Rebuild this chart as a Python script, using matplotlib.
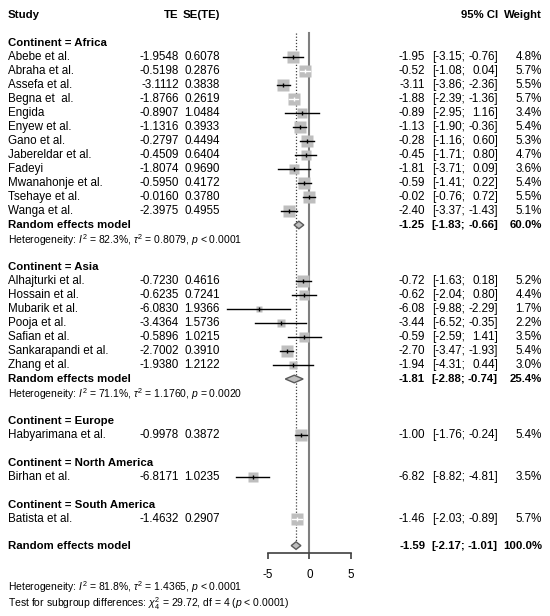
import matplotlib
matplotlib.use("Agg")
import matplotlib.pyplot as plt
from matplotlib.patches import Polygon

plt.rcParams['font.family'] = ['Liberation Sans', 'DejaVu Sans']
plt.rcParams['mathtext.fontset'] = 'custom'
plt.rcParams['mathtext.rm'] = 'Liberation Sans'
plt.rcParams['mathtext.it'] = 'Liberation Sans:italic'
plt.rcParams['mathtext.bf'] = 'Liberation Sans:bold'

# ---------------- data ----------------
groups = ["Africa", "Asia", "Europe", "North America", "South America"]

africa_study = ["Abebe et al.", "Abraha et al.", "Assefa et al.", "Begna et  al.", "Engida",
                "Enyew et al.", "Gano et al.", "Jabereldar et al.", "Fadeyi", "Mwanahonje et al.",
                "Tsehaye et al.", "Wanga et al."]
africa_te = [-1.9548, -0.5198, -3.1112, -1.8766, -0.8907, -1.1316, -0.2797, -0.4509, -1.8074,
             -0.5950, -0.0160, -2.3975]
africa_se = [0.6078, 0.2876, 0.3838, 0.2619, 1.0484, 0.3933, 0.4494, 0.6404, 0.9690, 0.4172,
             0.3780, 0.4955]
africa_est = [-1.95, -0.52, -3.11, -1.88, -0.89, -1.13, -0.28, -0.45, -1.81, -0.59, -0.02, -2.40]
africa_lo = [-3.15, -1.08, -3.86, -2.39, -2.95, -1.90, -1.16, -1.71, -3.71, -1.41, -0.76, -3.37]
africa_hi = [-0.76, 0.04, -2.36, -1.36, 1.16, -0.36, 0.60, 0.80, 0.09, 0.22, 0.72, -1.43]
africa_w = [4.8, 5.7, 5.5, 5.7, 3.4, 5.4, 5.3, 4.7, 3.6, 5.4, 5.5, 5.1]

asia_study = ["Alhajturki et al.", "Hossain et al.", "Mubarik et al.", "Pooja et al.",
              "Safian et al.", "Sankarapandi et al.", "Zhang et al."]
asia_te = [-0.7230, -0.6235, -6.0830, -3.4364, -0.5896, -2.7002, -1.9380]
asia_se = [0.4616, 0.7241, 1.9366, 1.5736, 1.0215, 0.3910, 1.2122]
asia_est = [-0.72, -0.62, -6.08, -3.44, -0.59, -2.70, -1.94]
asia_lo = [-1.63, -2.04, -9.88, -6.52, -2.59, -3.47, -4.31]
asia_hi = [0.18, 0.80, -2.29, -0.35, 1.41, -1.93, 0.44]
asia_w = [5.2, 4.4, 1.7, 2.2, 3.5, 5.4, 3.0]

europe_study = ["Habyarimana et al."]
europe_te = [-0.9978]
europe_se = [0.3872]
europe_est = [-1.00]
europe_lo = [-1.76]
europe_hi = [-0.24]
europe_w = [5.4]

namerica_study = ["Birhan et al."]
namerica_te = [-6.8171]
namerica_se = [1.0235]
namerica_est = [-6.82]
namerica_lo = [-8.82]
namerica_hi = [-4.81]
namerica_w = [3.5]

samerica_study = ["Batista et al."]
samerica_te = [-1.4632]
samerica_se = [0.2907]
samerica_est = [-1.46]
samerica_lo = [-2.03]
samerica_hi = [-0.89]
samerica_w = [5.7]

# subgroup random-effects summaries (only for groups with >1 study)
sub_est = [-1.25, -1.81, None, None, None]
sub_lo = [-1.83, -2.88, None, None, None]
sub_hi = [-0.66, -0.74, None, None, None]
sub_w = [60.0, 25.4, None, None, None]
sub_i2 = ["82.3%", "71.1%", None, None, None]
sub_tau2 = ["0.8079", "1.1760", None, None, None]
sub_p = ["< 0.0001", "= 0.0020", None, None, None]

overall_est, overall_lo, overall_hi, overall_w = -1.59, -2.17, -1.01, 100.0
overall_i2, overall_tau2, overall_p = "81.8%", "1.4365", "< 0.0001"
test_chi2, test_df, test_p = "29.72", 4, "< 0.0001"

xticks = [-5, 0, 5]

group_data = [
    (africa_study, africa_te, africa_se, africa_est, africa_lo, africa_hi, africa_w),
    (asia_study, asia_te, asia_se, asia_est, asia_lo, asia_hi, asia_w),
    (europe_study, europe_te, europe_se, europe_est, europe_lo, europe_hi, europe_w),
    (namerica_study, namerica_te, namerica_se, namerica_est, namerica_lo, namerica_hi, namerica_w),
    (samerica_study, samerica_te, samerica_se, samerica_est, samerica_lo, samerica_hi, samerica_w),
]

# ---------------- layout ----------------
W, H = 550, 616
PX_PER_UNIT = 8.33
X0_PX = 309.3
ROW_PX = 14.0
ROW0_PX = 15.0

fig = plt.figure(figsize=(W / 100, H / 100), dpi=100)
ax = fig.add_axes([0, 0, 1, 1])
ax.set_xlim(-X0_PX / PX_PER_UNIT, (W - X0_PX) / PX_PER_UNIT)
ax.set_ylim((H - ROW0_PX) / ROW_PX, -ROW0_PX / ROW_PX)
for s in ["top", "left", "right"]:
    ax.spines[s].set_visible(False)
ax.set_yticks([])

tr = ax.get_yaxis_transform()
FS = 8.4
FS_BOLD = 8.2
FS_SMALL = 7.5


def fx(px):
    return px / W


X_STUDY, X_TE, X_SE, X_EST, X_LO, X_HI, X_W = 8, 179, 220, 425, 465, 498, 542


def txt(px, row, s, ha="left", bold=False, size=None):
    if size is None:
        size = FS_BOLD if bold else FS
    ax.text(fx(px), row, s, transform=tr, ha=ha, va="center", fontsize=size,
            fontweight="bold" if bold else "normal", color="black")


def ci_cols(row, est, lo, hi, w, bold=False):
    txt(X_EST, row, f"{est:.2f}", ha="right", bold=bold)
    txt(X_LO, row, f"[{lo:.2f};", ha="right", bold=bold)
    txt(X_HI, row, f"{hi:.2f}]", ha="right", bold=bold)
    txt(X_W, row, f"{w:.1f}%", ha="right", bold=bold)


def diamond(row, est, lo, hi):
    h = 0.27
    poly = Polygon([(lo, row), (est, row - h), (hi, row), (est, row + h)], closed=True,
                   facecolor="#BEBEBE", edgecolor="#5A5A5A", lw=1.0, zorder=4)
    ax.add_patch(poly)


# header
txt(X_STUDY, 0, "Study", bold=True)
txt(179, 0, "TE", ha="right", bold=True)
txt(X_SE, 0, "SE(TE)", ha="right", bold=True)
txt(X_HI, 0, "95% CI", ha="right", bold=True)
txt(X_W, 0, "Weight", ha="right", bold=True)

MAX_SIDE_PX = 12.0
max_w = 5.7
row = 2
for gi, g in enumerate(groups):
    study, te, se, est, lo, hi, w = group_data[gi]
    txt(X_STUDY, row, f"Continent = {g}", bold=True)
    row += 1
    for i in range(len(study)):
        txt(X_STUDY, row, study[i])
        txt(X_TE, row, f"{te[i]:.4f}", ha="right")
        txt(X_SE, row, f"{se[i]:.4f}", ha="right")
        ci_cols(row, est[i], lo[i], hi[i], w[i])
        side_px = MAX_SIDE_PX * (w[i] / max_w) ** 0.5
        ax.plot([te[i]], [row], marker="s", ms=side_px * 0.72, color="#BEBEBE",
                mec="none", ls="none", zorder=3)
        inside = (hi[i] - lo[i]) * PX_PER_UNIT < side_px
        lc = "white" if inside else "black"
        ax.plot([lo[i], hi[i]], [row, row], color=lc, lw=1.0, zorder=5)
        ax.plot([te[i]], [row], marker="|", ms=3.2, mew=1.0, color=lc, ls="none", zorder=5)
        row += 1
    if sub_est[gi] is not None:
        txt(X_STUDY, row, "Random effects model", bold=True)
        ci_cols(row, sub_est[gi], sub_lo[gi], sub_hi[gi], sub_w[gi], bold=True)
        diamond(row, sub_est[gi], sub_lo[gi], sub_hi[gi])
        row += 1
        txt(X_STUDY, row + 0.07,
            f"Heterogeneity: $I^2$ = {sub_i2[gi]}, $\\tau^2$ = {sub_tau2[gi]}, $p$ {sub_p[gi]}",
            size=FS_SMALL)
        row += 1
    row += 1

overall_row = row - 0.1
txt(X_STUDY, overall_row, "Random effects model", bold=True)
ci_cols(overall_row, overall_est, overall_lo, overall_hi, overall_w, bold=True)
diamond(overall_row, overall_est, overall_lo, overall_hi)

# reference lines
top_row = 1.3
axis_row = 38.4
ax.plot([0, 0], [top_row, axis_row], color="#7F7F7F", lw=1.5, zorder=2)
ax.plot([overall_est, overall_est], [top_row, overall_row - 0.27], color="#404040",
        lw=0.9, ls=(0, (1, 1.5)), zorder=2)

# x axis
ax.spines["bottom"].set_position(("data", axis_row))
ax.spines["bottom"].set_bounds(xticks[0], xticks[-1])
ax.spines["bottom"].set_color("#404040")
ax.spines["bottom"].set_linewidth(1.2)
ax.set_xticks(xticks)
ax.set_xticklabels([str(t) for t in xticks])
ax.tick_params(axis="x", direction="out", length=4.1, width=1.2, color="#404040",
               pad=7.5, labelsize=FS, labelcolor="black")

# bottom notes
txt(X_STUDY, 40.88,
    f"Heterogeneity: $I^2$ = {overall_i2}, $\\tau^2$ = {overall_tau2}, $p$ {overall_p}",
    size=FS_SMALL)
txt(X_STUDY, 42.05,
    f"Test for subgroup differences: $\\chi^2_{test_df}$ = {test_chi2}, df = {test_df} ($p$ {test_p})",
    size=FS_SMALL)

fig.savefig("out.png", dpi=100)
